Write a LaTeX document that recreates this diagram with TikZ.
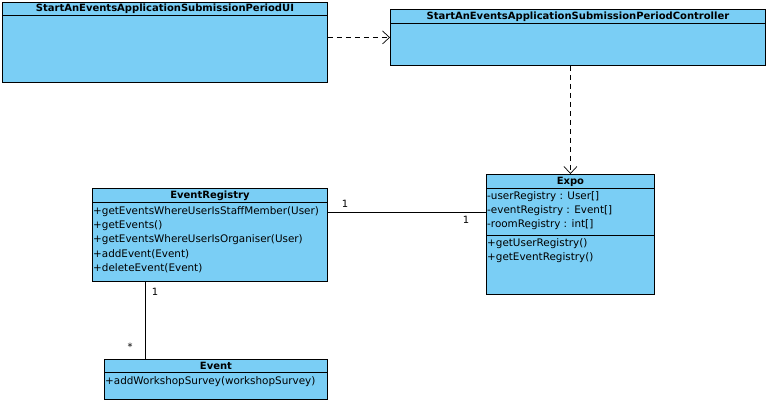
\documentclass[tikz,border=0pt]{standalone}
\usepackage{fontspec}
\setmainfont{DejaVu Sans}
\usetikzlibrary{arrows.meta,calc}
\definecolor{umlblue}{RGB}{122,206,245}
\tikzset{
  classbox/.style={draw=black, fill=umlblue, line width=0.9pt, anchor=north west, inner sep=0pt},
  classname/.style={font=\fontsize{10}{12}\selectfont\bfseries, inner sep=0pt},
  member/.style={font=\fontsize{10.4}{12}\selectfont, anchor=west, inner sep=0pt},
  dep/.style={dashed, dash pattern=on 5pt off 4pt, line width=0.7pt, -{Straight Barb[length=7pt,width=13pt]}},
  assoc/.style={line width=0.7pt},
  mult/.style={font=\fontsize{10}{12}\selectfont, inner sep=0pt}
}
\begin{document}
\begin{tikzpicture}[x=1pt,y=-1pt]
	\useasboundingbox (0,0) rectangle (769,403);
	% Classe UI
	\node[classbox, minimum width=325pt, minimum height=80pt] (ui) at (2,2) {};
	\draw[line width=0.7pt] ([yshift=-13pt]ui.north west)--([yshift=-13pt]ui.north east);
	\node[classname] (uiname) at ([yshift=-7pt]ui.north) {StartAnEventsApplicationSubmissionPeriodUI};
	% Classe Controller
	\node[classbox, minimum width=375pt, minimum height=56pt] (ctrl) at (390,9) {};
	\draw[line width=0.7pt] ([yshift=-14pt]ctrl.north west)--([yshift=-14pt]ctrl.north east);
	\node[classname] (ctrlname) at ([yshift=-7.5pt]ctrl.north) {StartAnEventsApplicationSubmissionPeriodController};
	% Classe Expo
	\node[classbox, minimum width=168pt, minimum height=120pt] (expo) at (486,174) {};
	\draw[line width=0.7pt] ([yshift=-14pt]expo.north west)--([yshift=-14pt]expo.north east);
	\draw[line width=0.7pt] ([yshift=-61pt]expo.north west)--([yshift=-61pt]expo.north east);
	\node[classname] (exponame) at ([yshift=-7.5pt]expo.north) {Expo};
	\node[member] (expoa) at (487,197) {-userRegistry : User[]};
	\node[member] (expob) at (487,211) {-eventRegistry : Event[]};
	\node[member] (expoc) at (487,225) {-roomRegistry : int[]};
	\node[member] (expod) at (487,244) {+getUserRegistry()};
	\node[member] (expoe) at (487,258) {+getEventRegistry()};
	% Classe EventRegistry
	\node[classbox, minimum width=235pt, minimum height=93pt] (er) at (92,188) {};
	\draw[line width=0.7pt] ([yshift=-14pt]er.north west)--([yshift=-14pt]er.north east);
	\node[classname] (ername) at ([yshift=-7.5pt]er.north) {EventRegistry};
	\foreach \y/\t in {212/{+getEventsWhereUserIsStaffMember(User)}, 226/{+getEvents()},
	  240/{+getEventsWhereUserIsOrganiser(User)}, 254/{+addEvent(Event)}, 268/{+deleteEvent(Event)}}
	\node[member] at (93,\y) {\t};
	% Classe Event
	\node[classbox, minimum width=223pt, minimum height=40pt] (ev) at (104,359) {};
	\draw[line width=0.7pt] ([yshift=-13pt]ev.north west)--([yshift=-13pt]ev.north east);
	\node[classname] (evname) at ([yshift=-6.5pt]ev.north) {Event};
	\node[member] (evm) at (105,382) {+addWorkshopSurvey(workshopSurvey)};
	% Dependencias
	\draw[dep] (ui.east |- ctrl.west) -- (ctrl.west);
	\draw[dep] (ctrl.south -| expo.north) -- (expo.north);
	% Associacoes
	\coordinate (erright) at ([yshift=-24pt]er.north east);
	\draw[assoc] (erright) -- (erright -| expo.west);
	\node[mult] (m1) at (345,204) {1};
	\node[mult] (m2) at (466,220) {1};
	\coordinate (erdown) at ([xshift=53pt]er.south west);
	\draw[assoc] (erdown) -- (erdown |- ev.north);
	\node[mult] (m3) at (155,292) {1};
	\node[mult] (m4) at (130,347) {*};
\end{tikzpicture}
\end{document}
